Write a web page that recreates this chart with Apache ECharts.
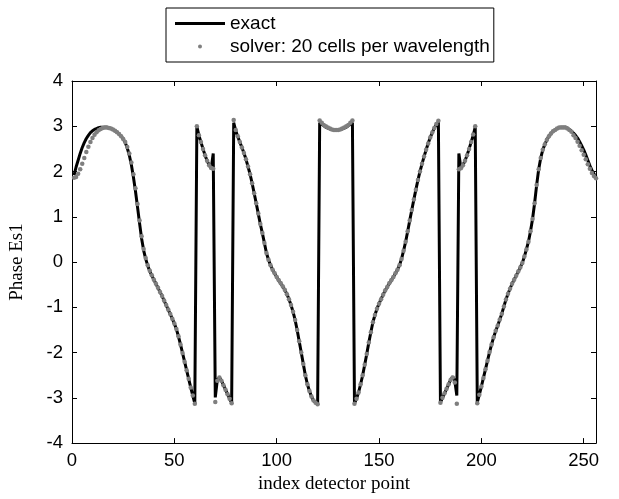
<!DOCTYPE html>
<html>
<head>
<meta charset="utf-8">
<script src="https://cdn.jsdelivr.net/npm/echarts@6/dist/echarts.min.js"></script>
<style>
html,body{margin:0;padding:0;background:#fff;}
#chart{width:619px;height:499px;}
</style>
</head>
<body>
<div id="chart"></div>
<script>
// detector index runs 1..256
var exactPhase = [
 1.92, 2.10, 2.25, 2.40, 2.53, 2.64, 2.73, 2.80, 2.86, 2.90, 2.93, 2.95, 2.97, 2.98, 2.98, 2.98, 2.98, 2.97, 2.95, 2.93,
 2.90, 2.87, 2.83, 2.78, 2.72, 2.64, 2.52, 2.36, 2.15, 1.88, 1.57, 1.22, 0.86, 0.52, 0.26, 0.07, -0.08, -0.20, -0.30, -0.39,
 -0.48, -0.57, -0.66, -0.75, -0.85, -0.95, -1.05, -1.15, -1.25, -1.36, -1.48, -1.64, -1.82, -2.01, -2.20, -2.39, -2.58, -2.77, -2.95, -3.12,
 2.99, 2.80, 2.65, 2.50, 2.36, 2.24, 2.14, 2.07, 2.40, -2.99, -2.60, -2.55, -2.62, -2.72, -2.82, -2.92, -3.02, -3.11, 3.08, 2.90,
 2.77, 2.65, 2.53, 2.41, 2.27, 2.11, 1.94, 1.74, 1.52, 1.30, 1.07, 0.84, 0.64, 0.42, 0.20, 0.05, -0.07, -0.17, -0.25, -0.33,
 -0.40, -0.47, -0.54, -0.62, -0.71, -0.82, -0.95, -1.10, -1.28, -1.50, -1.75, -2.00, -2.25, -2.50, -2.70, -2.85, -2.97, -3.06, -3.11, -3.14,
 3.08, 3.05, 3.01, 2.98, 2.96, 2.94, 2.93, 2.92, 2.92, 2.92, 2.93, 2.94, 2.96, 2.98, 3.01, 3.05, 3.08, -3.12, -3.02, -2.88,
 -2.70, -2.50, -2.27, -2.03, -1.78, -1.55, -1.33, -1.17, -1.03, -0.92, -0.82, -0.72, -0.63, -0.55, -0.47, -0.40, -0.33, -0.25, -0.17, -0.07,
 0.07, 0.25, 0.45, 0.68, 0.92, 1.15, 1.38, 1.60, 1.81, 2.00, 2.17, 2.33, 2.48, 2.62, 2.75, 2.86, 2.96, 3.04, 3.10, -3.10,
 -3.00, -2.90, -2.80, -2.70, -2.60, -2.53, -2.62, -2.95, 2.40, 2.07, 2.14, 2.24, 2.36, 2.50, 2.65, 2.80, 2.98, -3.10, -2.93, -2.75,
 -2.56, -2.37, -2.18, -1.99, -1.82, -1.66, -1.52, -1.40, -1.27, -1.14, -0.98, -0.83, -0.70, -0.59, -0.48, -0.39, -0.30, -0.21, -0.12, -0.02,
 0.12, 0.28, 0.45, 0.68, 0.95, 1.30, 1.70, 2.05, 2.30, 2.48, 2.60, 2.70, 2.78, 2.84, 2.89, 2.92, 2.95, 2.97, 2.98, 2.98,
 2.98, 2.96, 2.93, 2.89, 2.85, 2.80, 2.74, 2.66, 2.57, 2.48, 2.37, 2.25, 2.13, 2.03, 1.95, 1.89
];
var solverPhase = [
 1.86, 1.88, 1.95, 2.05, 2.17, 2.30, 2.43, 2.55, 2.65, 2.74, 2.81, 2.87, 2.91, 2.94, 2.96, 2.97, 2.97, 2.96, 2.95, 2.93,
 2.90, 2.87, 2.83, 2.78, 2.72, 2.65, 2.54, 2.40, 2.20, 1.94, 1.63, 1.28, 0.92, 0.57, 0.29, 0.09, -0.07, -0.19, -0.29, -0.39,
 -0.48, -0.57, -0.66, -0.75, -0.85, -0.95, -1.05, -1.15, -1.25, -1.36, -1.48, -1.64, -1.82, -2.01, -2.20, -2.39, -2.58, -2.77, -2.95, -3.13,
 3.00, 2.80, 2.65, 2.50, 2.36, 2.24, 2.14, 2.08, 2.06, -3.09, -2.62, -2.55, -2.62, -2.72, -2.82, -2.92, -3.02, -3.12, 3.14, 2.92,
 2.78, 2.65, 2.53, 2.41, 2.27, 2.11, 1.94, 1.74, 1.52, 1.30, 1.07, 0.84, 0.64, 0.42, 0.20, 0.05, -0.07, -0.17, -0.25, -0.33,
 -0.40, -0.47, -0.54, -0.62, -0.71, -0.82, -0.95, -1.10, -1.28, -1.50, -1.75, -2.00, -2.25, -2.50, -2.70, -2.85, -2.97, -3.06, -3.11, -3.14,
 3.13, 3.08, 3.03, 3.00, 2.97, 2.95, 2.93, 2.92, 2.92, 2.92, 2.93, 2.95, 2.97, 3.00, 3.03, 3.08, 3.13, -3.13, -3.02, -2.88,
 -2.70, -2.50, -2.27, -2.03, -1.78, -1.55, -1.33, -1.17, -1.03, -0.92, -0.82, -0.72, -0.63, -0.55, -0.47, -0.40, -0.33, -0.25, -0.17, -0.07,
 0.07, 0.25, 0.45, 0.68, 0.92, 1.15, 1.38, 1.60, 1.81, 2.00, 2.17, 2.33, 2.48, 2.62, 2.75, 2.86, 2.96, 3.05, 3.12, -3.11,
 -3.00, -2.90, -2.80, -2.70, -2.60, -2.55, -2.66, -3.13, 2.05, 2.07, 2.14, 2.24, 2.36, 2.50, 2.65, 2.82, 3.00, -3.12, -2.93, -2.75,
 -2.56, -2.37, -2.18, -1.99, -1.82, -1.66, -1.52, -1.40, -1.27, -1.14, -0.98, -0.83, -0.70, -0.59, -0.48, -0.39, -0.30, -0.21, -0.12, -0.02,
 0.12, 0.28, 0.45, 0.68, 0.95, 1.30, 1.70, 2.05, 2.30, 2.48, 2.60, 2.70, 2.78, 2.84, 2.89, 2.92, 2.95, 2.97, 2.97, 2.97,
 2.97, 2.95, 2.92, 2.88, 2.80, 2.74, 2.66, 2.57, 2.47, 2.37, 2.27, 2.16, 2.06, 1.97, 1.90, 1.85
];
var xTicks = [0, 50, 100, 150, 200, 250];
var yTicks = [-4, -3, -2, -1, 0, 1, 2, 3, 4];
var seriesNames = ['exact', 'solver: 20 cells per wavelength'];
var xTitle = 'index detector point';
var yTitle = 'Phase Es1';

function pairs(arr) {
  return arr.map(function (v, i) { return [i + 1, v]; });
}

var sans = 'Liberation Sans, Arial, Helvetica, sans-serif';
var serif = 'Liberation Serif, Times New Roman, serif';

var chart = echarts.init(document.getElementById('chart'), null, {renderer: 'canvas'});
function axisCommon() {
  return {
    axisLine: {show: true, onZero: false, lineStyle: {color: '#000', width: 1}},
    axisTick: {show: true, inside: true, length: 5, lineStyle: {color: '#000', width: 1}},
    splitLine: {show: false}
  };
}
chart.setOption({
  animation: false,
  backgroundColor: '#fff',
  grid: {left: 67.5, right: 23, top: 81, bottom: 55, containLabel: false},
  legend: {
    orient: 'vertical',
    left: 166, top: 8,
    padding: [4, 4, 4, 9],
    backgroundColor: '#fff',
    borderColor: '#000', borderWidth: 1, borderRadius: 0,
    itemWidth: 50, itemHeight: 4, itemGap: 0,
    textStyle: {fontFamily: sans, fontSize: 19, color: '#000', lineHeight: 23},
    data: [
      {name: seriesNames[0], icon: 'path://M0,0L50,0L50,3L0,3Z'},
      {name: seriesNames[1], icon: 'circle'}
    ]
  },
  xAxis: [
    Object.assign(axisCommon(), {
      type: 'value', position: 'bottom', min: 0, max: 256, interval: 50,
      name: xTitle, nameLocation: 'middle', nameGap: 29,
      nameTextStyle: {fontFamily: serif, fontSize: 19, color: '#000'},
      axisLabel: {fontFamily: sans, fontSize: 18.5, color: '#000', margin: 8,
        customValues: xTicks}
    }),
    Object.assign(axisCommon(), {
      type: 'value', position: 'top', min: 0, max: 256, interval: 50,
      axisLabel: {show: false}
    })
  ],
  yAxis: [
    Object.assign(axisCommon(), {
      type: 'value', position: 'left', min: -4, max: 4, interval: 1,
      name: yTitle, nameLocation: 'middle', nameGap: 45,
      nameTextStyle: {fontFamily: serif, fontSize: 19, color: '#000'},
      axisLabel: {fontFamily: sans, fontSize: 18.5, color: '#000', margin: 9,
        customValues: yTicks}
    }),
    Object.assign(axisCommon(), {
      type: 'value', position: 'right', min: -4, max: 4, interval: 1,
      axisLabel: {show: false}
    })
  ],
  series: [
    {
      name: seriesNames[0], type: 'line', xAxisIndex: 0, yAxisIndex: 0,
      data: pairs(exactPhase), symbol: 'none', showSymbol: false,
      lineStyle: {color: '#000', width: 3}, itemStyle: {color: '#000'},
      z: 2, silent: true
    },
    {
      name: seriesNames[1], type: 'scatter', xAxisIndex: 0, yAxisIndex: 0,
      data: pairs(solverPhase), symbol: 'circle', symbolSize: 4.5,
      itemStyle: {color: '#7f7f7f', opacity: 1}, z: 3, silent: true
    }
  ]
});
</script>
</body>
</html>
